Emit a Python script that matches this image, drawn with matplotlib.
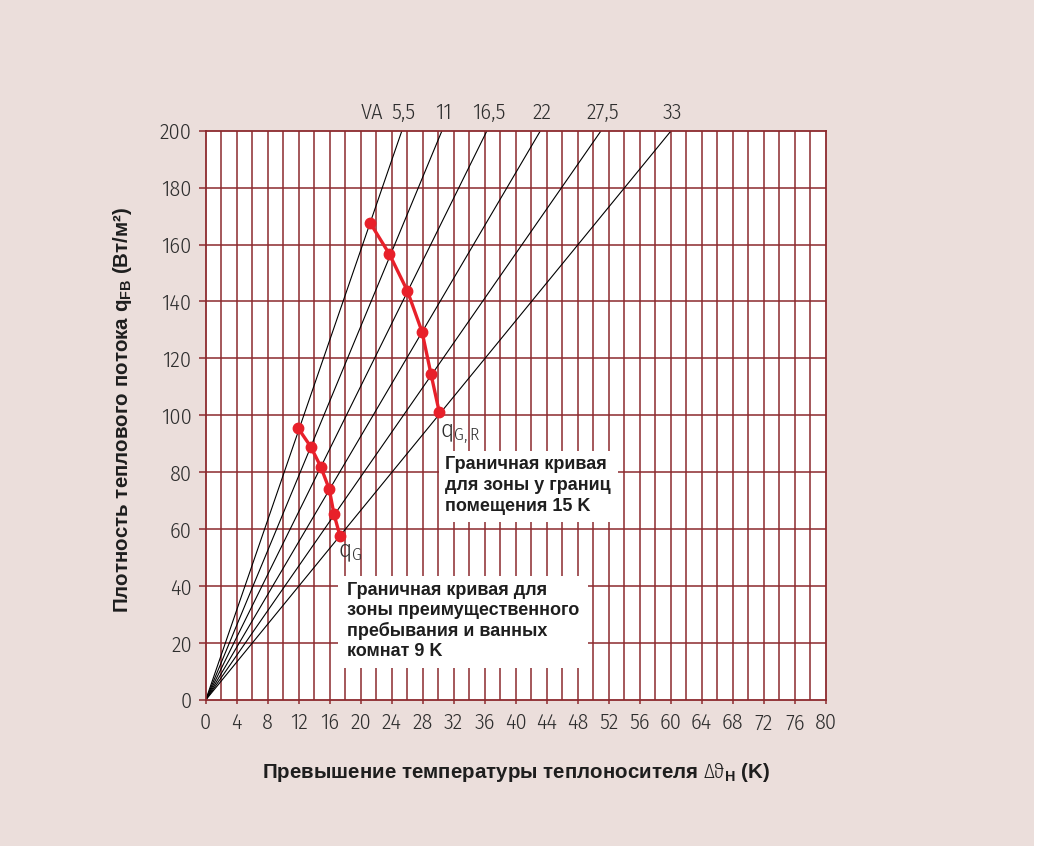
import matplotlib
matplotlib.use("Agg")
import matplotlib.pyplot as plt
from matplotlib import font_manager as fm
from matplotlib.patches import Rectangle

# ---------------- data ----------------
fan_labels = ["5,5", "11", "16,5", "22", "27,5", "33"]
fan_slopes = [7.90, 6.56, 5.51, 4.63, 3.92, 3.33]   # q_FB per K of each line

qg_dT = [11.95, 13.55, 14.84, 15.95, 16.55, 17.33]
qg_q = [95.4, 89.0, 82.0, 74.0, 65.3, 57.6]

qgr_dT = [21.2, 23.69, 26.01, 27.91, 29.07, 30.14]
qgr_q = [167.7, 156.7, 143.8, 129.4, 114.5, 101.1]

x_ticks = list(range(0, 81, 4))
y_ticks = list(range(0, 201, 20))

text_box1 = "Граничная кривая\nдля зоны у границ\nпомещения 15 K"
text_box2 = "Граничная кривая для\nзоны преимущественного\nпребывания и ванных\nкомнат 9 K"
x_label = "Превышение температуры теплоносителя "
y_label = "Плотность теплового потока q"

# ---------------- fonts ----------------
_avail = {(f.name, f.weight, f.style) for f in fm.fontManager.ttflist}


def pick(options):
    for name, w in options:
        if (name, w, "normal") in _avail:
            return name, w
    return "Liberation Sans", 400


LIGHT_F, LIGHT_W = pick([("Fira Sans Condensed", 300), ("PT Sans Narrow", 400),
                         ("Fira Sans Condensed", 400), ("Liberation Sans Narrow", 400)])
BOLD_F, BOLD_W = pick([("Liberation Sans", 700), ("Arimo", 700)])

plt.rcParams["font.family"] = [LIGHT_F, "DejaVu Sans"]
plt.rcParams["mathtext.fontset"] = "custom"
plt.rcParams["mathtext.rm"] = f"{LIGHT_F}:weight={LIGHT_W}"
plt.rcParams["mathtext.bf"] = f"{BOLD_F}:weight={BOLD_W}"
plt.rcParams["mathtext.it"] = f"{LIGHT_F}:weight={LIGHT_W}"
plt.rcParams["mathtext.sf"] = f"{LIGHT_F}:weight={LIGHT_W}"

LFONT = dict(family=[LIGHT_F, "DejaVu Sans"], weight=LIGHT_W)
BFONT = dict(family=[BOLD_F, "DejaVu Sans"], weight=BOLD_W)

W, H = 1037, 846
BG = "#ebdedb"
GRID = "#8c2a2e"
TXT = "#2e2e2e"
DARK = "#1e1e1e"
RED = "#e8202a"

fig = plt.figure(figsize=(W / 100, H / 100), dpi=100, facecolor=BG)


def fx(px):
    return px / W


def fy(py):
    return 1 - py / H


# white strip right edge
fig.patches.append(Rectangle((fx(1034), 0), 1, 1, transform=fig.transFigure,
                             facecolor="white", edgecolor="none", zorder=0))

L, R, T, B = 205.7, 825.7, 130.7, 700.0
ax = fig.add_axes([fx(L), fy(B), fx(R - L), (B - T) / H])
ax.set_facecolor("white")
ax.set_xlim(0, 80)
ax.set_ylim(0, 200)

# grid
for xv in range(2, 80, 2):
    ax.axvline(xv, color=GRID, lw=1.1, zorder=1)
for yv in range(20, 200, 20):
    ax.axhline(yv, color=GRID, lw=1.1, zorder=1)
for s in ax.spines.values():
    s.set_color(GRID)
    s.set_linewidth(1.3)

ax.set_xticks(x_ticks)
ax.set_yticks(y_ticks)
ax.tick_params(axis="x", length=3, width=1.1, color=GRID, pad=6,
               labelsize=16, labelcolor=TXT)
ax.tick_params(axis="y", length=5, width=1.1, color=GRID, pad=5,
               labelsize=16, labelcolor=TXT)
for lab in ax.get_xticklabels() + ax.get_yticklabels():
    lab.set_fontfamily(LFONT["family"])
    lab.set_fontweight(LIGHT_W)

# fan lines
for lab, k in zip(fan_labels, fan_slopes):
    ax.plot([0, 80], [0, 80 * k], color="black", lw=0.8, zorder=2)
    ax.text(200 / k + 0.2, 202.5, lab, ha="center", va="bottom", fontsize=16,
            color=TXT, clip_on=False, **LFONT)
ax.text(21.5, 202.5, "VA", ha="center", va="bottom", fontsize=16, color=TXT,
        clip_on=False, **LFONT)

# red curves
for xs, ys in ((qg_dT, qg_q), (qgr_dT, qgr_q)):
    ax.plot(xs, ys, color=RED, lw=2.4, marker="o", markersize=7.5, zorder=4)

ax.text(30.2, 93, r"q$_{\mathrm{G,R}}$", fontsize=18, color=TXT, ha="left",
        va="center", **LFONT)
ax.text(17.1, 52, r"q$_{\mathrm{G}}$", fontsize=18, color=TXT, ha="left",
        va="center", **LFONT)

# text boxes (white background)
fig.patches.append(Rectangle((fx(439), fy(522)), fx(618 - 439), (522 - 451) / H,
                             transform=fig.transFigure, facecolor="white",
                             edgecolor="none", zorder=3))
fig.patches.append(Rectangle((fx(338), fy(668)), fx(588 - 338), (668 - 576) / H,
                             transform=fig.transFigure, facecolor="white",
                             edgecolor="none", zorder=3))
fig.text(fx(445), fy(456), text_box1, ha="left", va="top", fontsize=13.0,
         color=DARK, linespacing=1.29, zorder=5, **BFONT)
fig.text(fx(347), fy(582), text_box2, ha="left", va="top", fontsize=13.0,
         color=DARK, linespacing=1.23, zorder=5, **BFONT)

# axis labels
fig.text(fx(516), fy(772), x_label + r"$\mathrm{\Delta\vartheta}_{\mathbf{H}}$" + " (K)",
         ha="center", va="center", fontsize=14.8, color=DARK, **BFONT)
fig.text(fx(122), fy(410), y_label + r"$_{\mathbf{FB}}$" + " (Вт/м²)",
         ha="center", va="center", rotation=90, fontsize=14.8,
         color=DARK, **BFONT)

fig.savefig("out.png", dpi=100, facecolor=BG)
